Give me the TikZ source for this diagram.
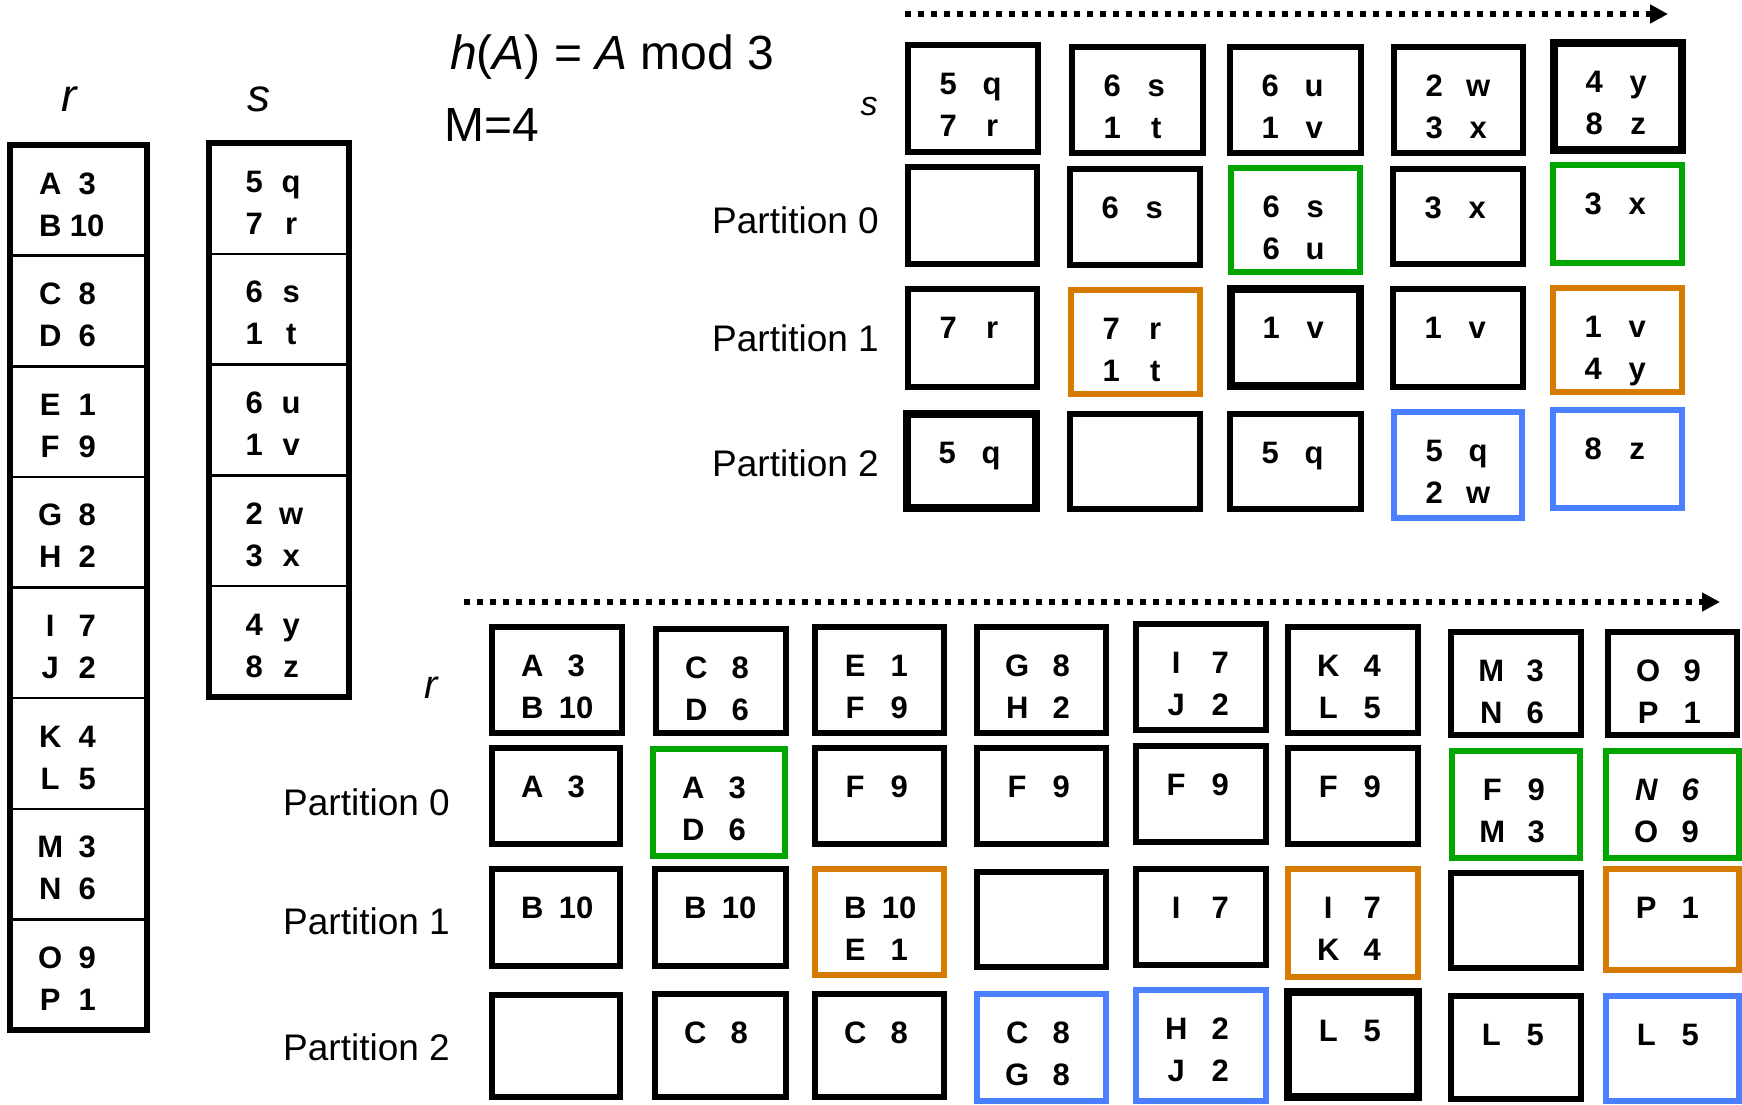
\documentclass[tikz,border=0pt]{standalone}
\usepackage{fontspec}
\setmainfont{Liberation Sans}
\usetikzlibrary{arrows.meta}
\definecolor{cgreen}{RGB}{0,166,0}
\definecolor{corange}{RGB}{214,122,0}
\definecolor{cblue}{RGB}{74,128,255}

\newlength\pairgap
\newlength\txoff
\setlength\pairgap{44pt}
\setlength\txoff{40pt}
\newcommand\pr[2]{\makebox[0pt][c]{#1}\hspace{\pairgap}\makebox[0pt][c]{#2}}

\tikzset{
  box/.style={draw=black, line width=5.5pt, rectangle, inner sep=0pt, outer sep=0pt},
  thickbox/.style={box, line width=8pt},
  greenbox/.style={box, draw=cgreen, line width=6.5pt},
  orangebox/.style={box, draw=corange, line width=6.5pt},
  bluebox/.style={box, draw=cblue, line width=6.5pt},
  rowbox/.style={draw=black, line width=2.5pt, rectangle, inner sep=0pt, outer sep=0pt},
  tablebox/.style={draw=black, line width=5.5pt, rectangle, inner sep=0pt, outer sep=0pt},
  celltxt/.style={inner sep=0pt, font=\fontsize{31}{31}\selectfont\bfseries, anchor=base west},
  plabel/.style={inner sep=0pt, font=\fontsize{37}{37}\selectfont, anchor=base east},
  biglabel/.style={inner sep=0pt, font=\fontsize{46}{46}\selectfont\itshape, anchor=base},
  title/.style={inner sep=0pt, font=\fontsize{48}{48}\selectfont, anchor=base west},
  flow/.style={line width=6pt, dash pattern=on 6pt off 7pt, -{Triangle[length=18pt,width=18pt]}},
}

% name, style, left, top, right, bottom, line1, line2
\newcommand\gcell[8]{%
  \pgfmathsetmacro\cw{#5-#3}%
  \pgfmathsetmacro\ch{#6-#4}%
  \pgfmathsetmacro\cx{(#3+#5)/2}%
  \pgfmathsetmacro\cy{(#4+#6)/2}%
  \node[#2, minimum width=\cw pt, minimum height=\ch pt] (#1) at (\cx,\cy) {};
  \if\relax\detokenize{#7}\relax\else
    \node[celltxt] (#1-a) at ([xshift=\txoff,yshift=-49pt]#1.north west) {#7};
  \fi
  \if\relax\detokenize{#8}\relax\else
    \node[celltxt] (#1-b) at ([xshift=\txoff,yshift=-91pt]#1.north west) {#8};
  \fi
}

\begin{document}
\begin{tikzpicture}[x=1pt,y=-1pt]
\useasboundingbox[fill=white] (0,0) rectangle (1742,1104);

% ---------- left tables ----------
\node[biglabel] (rlab) at (69,111) {r};
\node[biglabel] (slab) at (259,111) {s};

\setlength\pairgap{37pt}
\setlength\txoff{40pt}
\foreach \a/\b/\c/\d [count=\i from 0] in {A/3/B/10, C/8/D/6, E/1/F/9, G/8/H/2, I/7/J/2, K/4/L/5, M/3/N/6, O/9/P/1}{
  \pgfmathsetmacro\tp{145+\i*110.625}
  \pgfmathsetmacro\bt{145+(\i+1)*110.625}
  \gcell{rrow\i}{rowbox}{10}{\tp}{147}{\bt}{\pr{\a}{\b}}{\pr{\c}{\d}}
}
\node[tablebox, minimum width=137pt, minimum height=885pt] (rtab) at (78.5,587.5) {};

\setlength\txoff{45pt}
\foreach \a/\b/\c/\d [count=\i from 0] in {5/q/7/r, 6/s/1/t, 6/u/1/v, 2/w/3/x, 4/y/8/z}{
  \pgfmathsetmacro\tp{143+\i*110.8}
  \pgfmathsetmacro\bt{143+(\i+1)*110.8}
  \gcell{srow\i}{rowbox}{209}{\tp}{349}{\bt}{\pr{\a}{\b}}{\pr{\c}{\d}}
}
\node[tablebox, minimum width=140pt, minimum height=554pt] (stab) at (279,420) {};

% ---------- title ----------
\node[title] (hfun) at (450,69) {\textit{h}(\textit{A}) = \textit{A} mod 3};
\node[title] (mval) at (444.5,141) {M=4};

% ---------- top grid (s) ----------
\setlength\pairgap{44pt}
\setlength\txoff{40pt}
\coordinate (ts) at (905,14);
\coordinate (te) at (1668,14);
\draw[flow] (ts) -- (te);

\node[inner sep=0pt, font=\fontsize{34}{34}\selectfont\itshape, anchor=base] (tslab) at (869,115) {s};
\node[plabel] (tp0) at (879,233) {Partition 0};
\node[plabel] (tp1) at (879,351) {Partition 1};
\node[plabel] (tp2) at (879,476) {Partition 2};

\gcell{s1}{box}{908}{45}{1038}{152}{\pr{5}{q}}{\pr{7}{r}}
\gcell{s2}{box}{1072}{47}{1203}{153}{\pr{6}{s}}{\pr{1}{t}}
\gcell{s3}{box}{1230}{47}{1361}{153}{\pr{6}{u}}{\pr{1}{v}}
\gcell{s4}{box}{1394}{47}{1523}{153}{\pr{2}{w}}{\pr{3}{x}}
\gcell{s5}{thickbox}{1554}{43}{1682}{150}{\pr{4}{y}}{\pr{8}{z}}

\gcell{sa1}{box}{908}{167}{1037}{264}{}{}
\gcell{sa2}{box}{1070}{169}{1200}{265}{\pr{6}{s}}{}
\gcell{sa3}{greenbox}{1231}{168}{1360}{272}{\pr{6}{s}}{\pr{6}{u}}
\gcell{sa4}{box}{1393}{169}{1523}{264}{\pr{3}{x}}{}
\gcell{sa5}{greenbox}{1553}{165}{1682}{263}{\pr{3}{x}}{}

\gcell{sb1}{box}{908}{289}{1037}{387}{\pr{7}{r}}{}
\gcell{sb2}{orangebox}{1071}{290}{1200}{394}{\pr{7}{r}}{\pr{1}{t}}
\gcell{sb3}{thickbox}{1231}{289}{1360}{386}{\pr{1}{v}}{}
\gcell{sb4}{box}{1393}{289}{1523}{387}{\pr{1}{v}}{}
\gcell{sb5}{orangebox}{1553}{288}{1682}{392}{\pr{1}{v}}{\pr{4}{y}}

\gcell{sc1}{thickbox}{907}{414}{1036}{508}{\pr{5}{q}}{}
\gcell{sc2}{box}{1070}{414}{1200}{509}{}{}
\gcell{sc3}{box}{1230}{414}{1361}{509}{\pr{5}{q}}{}
\gcell{sc4}{bluebox}{1394}{412}{1522}{518}{\pr{5}{q}}{\pr{2}{w}}
\gcell{sc5}{bluebox}{1553}{410}{1682}{508}{\pr{8}{z}}{}

% ---------- bottom grid (r) ----------
\coordinate (bs) at (464,602);
\coordinate (be) at (1720,602);
\draw[flow] (bs) -- (be);

\node[inner sep=0pt, font=\fontsize{40}{40}\selectfont\itshape, anchor=base] (brlab) at (431,698) {r};
\node[plabel] (bp0) at (450,815) {Partition 0};
\node[plabel] (bp1) at (450,934) {Partition 1};
\node[plabel] (bp2) at (450,1060) {Partition 2};

\gcell{r1}{box}{492}{627}{622}{733}{\pr{A}{3}}{\pr{B}{10}}
\gcell{r2}{box}{656}{629}{786}{733}{\pr{C}{8}}{\pr{D}{6}}
\gcell{r3}{box}{815}{627}{944}{733}{\pr{E}{1}}{\pr{F}{9}}
\gcell{r4}{box}{977}{627}{1106}{733}{\pr{G}{8}}{\pr{H}{2}}
\gcell{r5}{box}{1136}{624}{1266}{730}{\pr{I}{7}}{\pr{J}{2}}
\gcell{r6}{box}{1288}{627}{1418}{733}{\pr{K}{4}}{\pr{L}{5}}
\gcell{r7}{box}{1451}{632}{1581}{735}{\pr{M}{3}}{\pr{N}{6}}
\gcell{r8}{box}{1608}{632}{1737}{735}{\pr{O}{9}}{\pr{P}{1}}

\gcell{ra1}{box}{492}{748}{620}{844}{\pr{A}{3}}{}
\gcell{ra2}{greenbox}{653}{749}{785}{856}{\pr{A}{3}}{\pr{D}{6}}
\gcell{ra3}{box}{815}{748}{944}{844}{\pr{F}{9}}{}
\gcell{ra4}{box}{977}{748}{1106}{844}{\pr{F}{9}}{}
\gcell{ra5}{box}{1136}{746}{1266}{842}{\pr{F}{9}}{}
\gcell{ra6}{box}{1288}{748}{1418}{844}{\pr{F}{9}}{}
\gcell{ra7}{greenbox}{1452}{751}{1580}{858}{\pr{F}{9}}{\pr{M}{3}}
\gcell{ra8}{greenbox}{1606}{751}{1739}{858}{\itshape\pr{N}{6}}{\pr{O}{9}}

\gcell{rb1}{box}{492}{869}{620}{966}{\pr{B}{10}}{}
\gcell{rb2}{box}{655}{869}{786}{966}{\pr{B}{10}}{}
\gcell{rb3}{orangebox}{815}{869}{944}{975}{\pr{B}{10}}{\pr{E}{1}}
\gcell{rb4}{box}{977}{872}{1106}{967}{}{}
\gcell{rb5}{box}{1136}{869}{1266}{965}{\pr{I}{7}}{}
\gcell{rb6}{orangebox}{1288}{869}{1418}{977}{\pr{I}{7}}{\pr{K}{4}}
\gcell{rb7}{box}{1451}{873}{1581}{968}{}{}
\gcell{rb8}{orangebox}{1606}{869}{1739}{970}{\pr{P}{1}}{}

\gcell{rc1}{box}{492}{995}{620}{1097}{}{}
\gcell{rc2}{box}{655}{994}{786}{1097}{\pr{C}{8}}{}
\gcell{rc3}{box}{815}{994}{944}{1097}{\pr{C}{8}}{}
\gcell{rc4}{bluebox}{977}{994}{1106}{1101}{\pr{C}{8}}{\pr{G}{8}}
\gcell{rc5}{bluebox}{1136}{990}{1266}{1101}{\pr{H}{2}}{\pr{J}{2}}
\gcell{rc6}{thickbox}{1288}{992}{1418}{1097}{\pr{L}{5}}{}
\gcell{rc7}{box}{1451}{996}{1581}{1099}{\pr{L}{5}}{}
\gcell{rc8}{bluebox}{1606}{996}{1739}{1101}{\pr{L}{5}}{}
\end{tikzpicture}
\end{document}
